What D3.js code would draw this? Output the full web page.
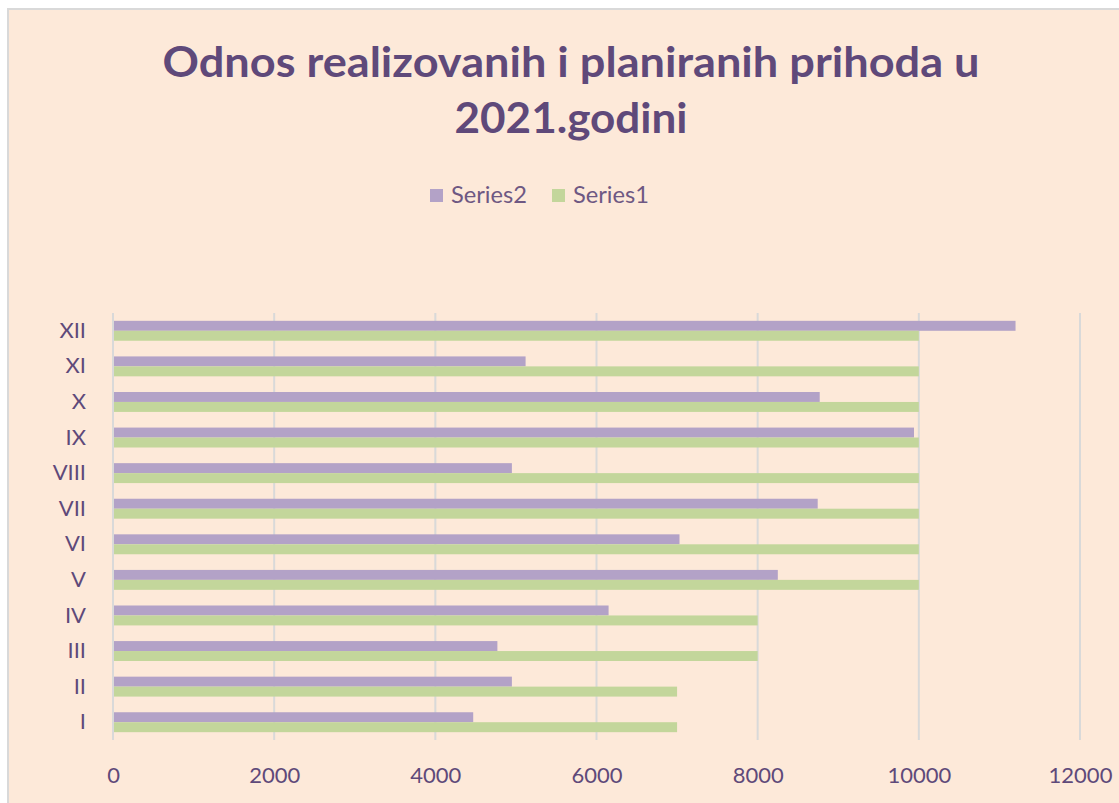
<!DOCTYPE html>
<html>
<head>
<meta charset="utf-8">
<script src="https://cdn.jsdelivr.net/npm/d3@7"></script>
<style>
html,body{margin:0;padding:0;background:#ffffff;}
svg{display:block;}
</style>
</head>
<body>
<svg id="chart" width="1119" height="803"></svg>
<script>
const categories = ["I","II","III","IV","V","VI","VII","VIII","IX","X","XI","XII"];
const series2 = [4470, 4950, 4770, 6150, 8250, 7030, 8745, 4950, 9940, 8770, 5120, 11200];
const series1 = [7000, 7000, 8000, 8000, 10000, 10000, 10000, 10000, 10000, 10000, 10000, 10000];
const seriesNames = ["Series2", "Series1"];
const xTicks = [0, 2000, 4000, 6000, 8000, 10000, 12000];
const titleLines = ["Odnos realizovanih i planiranih prihoda u", "2021.godini"];

const W = 1119, H = 803;
const bg = "#FDE9D9", textCol = "#5F497A";
const colors = {"Series2": "#B3A2C7", "Series1": "#C3D69B"};
const font = "Lato, 'Open Sans', 'Liberation Sans', sans-serif";

const svg = d3.select("#chart");
svg.append("rect").attr("x", 8).attr("y", 9).attr("width", W + 20).attr("height", H + 20)
  .attr("fill", bg).attr("stroke", "#D9D9D9").attr("stroke-width", 2);

// Title
const titleG = svg.append("g");
titleG.append("text").attr("x", 571).attr("y", 77).attr("text-anchor", "middle")
  .attr("font-family", font).attr("font-weight", "bold").attr("font-size", 42)
  .attr("fill", textCol).attr("textLength", 817).attr("lengthAdjust", "spacingAndGlyphs")
  .text(titleLines[0]);
titleG.append("text").attr("x", 571).attr("y", 133).attr("text-anchor", "middle")
  .attr("font-family", font).attr("font-weight", "bold").attr("font-size", 42)
  .attr("fill", textCol).attr("textLength", 233).attr("lengthAdjust", "spacingAndGlyphs")
  .text(titleLines[1]);

// Legend
const legendX = [430, 552];
seriesNames.forEach((n, i) => {
  const g = svg.append("g").attr("transform", `translate(${legendX[i]},189)`);
  g.append("rect").attr("width", 13).attr("height", 13).attr("fill", colors[n]);
  g.append("text").attr("x", 21).attr("y", 14).attr("font-family", font)
    .attr("font-size", 23).attr("fill", textCol).attr("opacity", 0.9)
    .attr("textLength", 76).attr("lengthAdjust", "spacingAndGlyphs").text(n);
});

// Scales
const x = d3.scaleLinear().domain([0, 12000]).range([113, 1080]);
const y = d3.scaleBand().domain(categories).range([740, 313]).paddingInner(0.44).paddingOuter(0.22);
const sub = d3.scaleBand().domain(seriesNames).range([0, y.bandwidth()]);

// Gridlines
svg.append("g").selectAll("line").data(xTicks).join("line")
  .attr("x1", d => x(d)).attr("x2", d => x(d)).attr("y1", 313).attr("y2", 740)
  .attr("stroke", "#D9D9D9").attr("stroke-width", 2);

// Bars
const data = categories.map((c, i) => ({c, Series2: series2[i], Series1: series1[i]}));
const groups = svg.append("g").selectAll("g").data(data).join("g")
  .attr("transform", d => `translate(0,${y(d.c)})`);
groups.selectAll("rect").data(d => seriesNames.map(n => ({n, v: d[n]}))).join("rect")
  .attr("x", x(0) + 1).attr("y", d => sub(d.n))
  .attr("width", d => x(d.v) - x(0) - 1).attr("height", sub.bandwidth())
  .attr("fill", d => colors[d.n]);

// Axes
const xAxis = svg.append("g").attr("transform", "translate(0,740)")
  .call(d3.axisBottom(x).tickValues(xTicks).tickSize(0).tickPadding(27).tickFormat(d3.format("d")));
xAxis.select(".domain").remove();
xAxis.selectAll("text").attr("font-family", font).attr("font-size", 22).attr("fill", textCol);

const yAxis = svg.append("g").attr("transform", "translate(86,0)")
  .call(d3.axisLeft(y).tickSize(0).tickPadding(0));
yAxis.select(".domain").remove();
yAxis.selectAll("text").attr("font-family", font).attr("font-size", 22).attr("fill", textCol);
</script>
</body>
</html>
